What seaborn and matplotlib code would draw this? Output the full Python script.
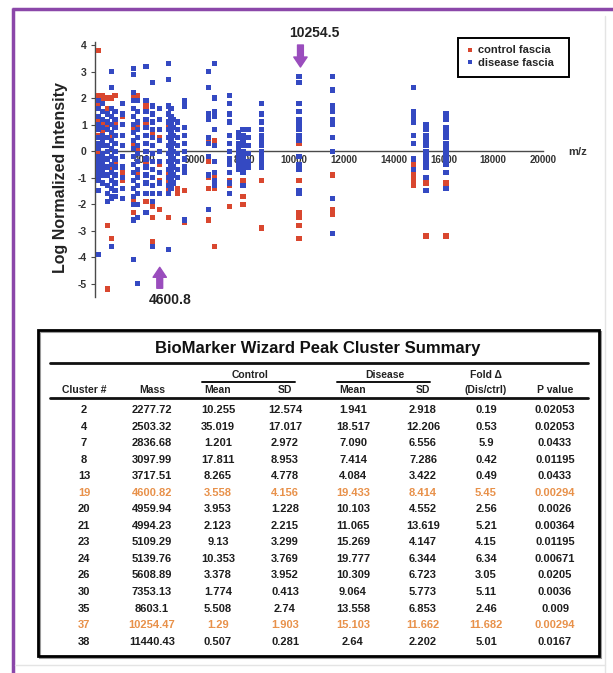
import matplotlib
matplotlib.use("Agg")
import matplotlib.pyplot as plt
from matplotlib.patches import Rectangle
import pandas as pd
import seaborn as sns

# scatter columns: m/z position of each peak column, log intensities read per column
ctrl_mz = [2150, 2300, 2500, 2650, 2800, 3100, 3550, 3700, 4050, 4300, 4600, 4950,
           5050, 5300, 5600, 6550, 6800, 7400, 7950, 8700, 10200, 11550, 14800, 15300, 16100]
ctrl_y = [
    [3.8, 2.1, 1.7, 1.2, 0.6, 0.3, -0.1],
    [2.1, 1.9, 1.1, 0.7, 0.4, -0.3],
    [2.0, 1.6, 0.9, 0.5, 0.2, -0.9, -2.8, -5.2],
    [2.0, 0.6, -0.7, -3.3],
    [2.1, 1.0, -0.5, -1.2, -1.5],
    [1.3, -0.2, -0.8, -1.1],
    [2.2, 2.0, 1.3, 0.9, 0.3, -0.5, -1.9, -2.3],
    [2.1, 1.5, 1.0, 0.1, -0.9, -2.0],
    [1.7, 1.1, 0.6, -0.4, -1.2, -1.9, -2.3],
    [1.4, 0.7, -0.7, -1.3, -2.1, -2.5, -3.4],
    [1.2, 0.5, -0.5, -1.1, -2.2],
    [1.0, 0.2, -0.8, -1.2, -1.5, -1.6, -2.5],
    [-0.4, -0.9, -1.4],
    [-1.4, -1.6],
    [-1.5, -2.7],
    [0.4, -0.4, -1.0, -1.4, -2.6],
    [0.4, -0.9, -1.4, -3.6],
    [-1.1, -1.3, -2.1],
    [-1.1, -1.7, -2.0],
    [-0.6, -1.1, -2.9],
    [0.3, -1.1, -2.3, -2.5, -2.8, -3.3],
    [-0.9, -2.2, -2.4],
    [-0.5, -0.9, -1.1, -1.3],
    [-1.2, -3.2],
    [0.9, -1.2, -3.2],
]

dis_mz = [2150, 2300, 2500, 2650, 2800, 3100, 3550, 3700, 4050, 4300, 4600, 4950, 5050,
          5150, 5300, 5600, 6550, 6800, 7400, 7750, 7950, 8150, 8700, 10200, 11550,
          14800, 15300, 16100]
dis_y = [
    [1.9, 1.6, 1.3, 1.0, 0.8, 0.5, 0.3, 0.1, -0.2, -0.4, -0.6, -0.8, -0.9, -1.1, -1.5, -3.9],
    [1.8, 1.5, 1.2, 0.9, 0.6, 0.4, 0.2, -0.1, -0.3, -0.5, -0.7, -0.9, -1.2],
    [1.4, 1.1, 0.8, 0.5, 0.2, 0.0, -0.3, -0.6, -0.9, -1.3, -1.6, -1.9],
    [3.0, 2.4, 1.6, 1.3, 1.0, 0.7, 0.4, 0.1, -0.2, -0.5, -0.8, -1.1, -1.4, -1.7, -1.8, -3.6],
    [1.5, 1.2, 0.9, 0.6, 0.3, 0.0, -0.3, -0.6, -0.9, -1.2, -1.5, -1.7],
    [1.8, 1.4, 1.0, 0.6, 0.2, -0.2, -0.6, -1.0, -1.4, -1.8],
    [3.1, 2.9, 2.2, 1.9, 1.6, 1.3, 1.0, 0.7, 0.4, 0.1, -0.2, -0.5, -0.8, -1.1, -1.4, -1.7,
     -2.0, -2.6, -4.1],
    [1.9, 1.5, 1.1, 0.8, 0.5, 0.2, -0.1, -0.4, -0.7, -1.0, -1.3, -1.6, -2.0, -2.5, -5.0],
    [3.2, 1.9, 1.5, 1.2, 0.9, 0.6, 0.3, 0.0, -0.3, -0.6, -0.9, -1.2, -1.6, -2.3],
    [2.6, 1.7, 1.4, 1.1, 0.8, 0.5, 0.2, -0.1, -0.4, -0.7, -1.0, -1.3, -1.6, -1.9, -3.6],
    [1.6, 1.2, 0.8, 0.4, 0.0, -0.4, -0.8, -1.2, -1.6],
    [3.3, 2.7, 1.7, 1.4, 1.1, 0.8, 0.5, 0.2, -0.1, -0.4, -0.7, -1.0, -1.3, -1.6, -3.7],
    [1.6, 1.3, 1.0, 0.7, 0.4, 0.1, -0.2, -0.5, -0.8, -1.1, -1.4],
    [1.2, 0.9, 0.6, 0.3, 0.0, -0.3, -0.6, -0.9, -1.2],
    [1.1, 0.8, 0.5, 0.2, -0.1, -0.4, -0.7, -1.0],
    [1.9, 1.7, 0.9, 0.6, 0.3, 0.0, -0.3, -0.6, -0.8, -2.6],
    [3.0, 2.4, 1.4, 1.2, 0.5, 0.3, -0.2, -0.9, -2.2],
    [3.3, 2.0, 1.5, 1.3, 0.8, 0.2, -0.4, -0.8, -1.1, -1.3],
    [2.1, 1.8, 1.4, 1.1, 0.6, 0.3, 0.0, -0.3, -0.5, -0.8, -1.2, -1.6],
    [0.7, 0.5, 0.3, 0.1, -0.1, -0.3, -0.5, -0.7],
    [0.8, 0.6, 0.4, 0.2, 0.0, -0.2, -0.4, -0.6, -0.8, -1.3],
    [0.8, 0.5, 0.2, -0.1, -0.4, -0.6],
    [1.8, 1.4, 1.1, 0.8, 0.6, 0.4, 0.2, 0.0, -0.2, -0.4, -0.6],
    [2.8, 2.6, 1.8, 1.5, 1.2, 1.0, 0.8, 0.6, 0.4, -0.2, -0.5, -0.7, -1.5, -1.6],
    [2.8, 2.3, 1.7, 1.5, 1.2, 1.0, 0.5, 0.0, -1.8, -3.1],
    [2.4, 1.5, 1.3, 1.1, 0.6, 0.3, -0.3, -0.7],
    [1.0, 0.8, 0.6, 0.4, 0.2, 0.0, -0.2, -0.4, -0.6, -1.0, -1.5],
    [1.4, 1.2, 0.9, 0.7, 0.5, 0.3, 0.1, -0.1, -0.3, -0.5, -0.8, -1.4],
]

# highlighted peaks
peak_labels = ["10254.5", "4600.8"]
peak_mz = [10254.5, 4600.8]

# summary table
cluster = ["2", "4", "7", "8", "13", "19", "20", "21", "23", "24", "26", "30", "35", "37", "38"]
mass = ["2277.72", "2503.32", "2836.68", "3097.99", "3717.51", "4600.82", "4959.94", "4994.23",
        "5109.29", "5139.76", "5608.89", "7353.13", "8603.1", "10254.47", "11440.43"]
ctrl_mean = ["10.255", "35.019", "1.201", "17.811", "8.265", "3.558", "3.953", "2.123",
             "9.13", "10.353", "3.378", "1.774", "5.508", "1.29", "0.507"]
ctrl_sd = ["12.574", "17.017", "2.972", "8.953", "4.778", "4.156", "1.228", "2.215",
           "3.299", "3.769", "3.952", "0.413", "2.74", "1.903", "0.281"]
dis_mean = ["1.941", "18.517", "7.090", "7.414", "4.084", "19.433", "10.103", "11.065",
            "15.269", "19.777", "10.309", "9.064", "13.558", "15.103", "2.64"]
dis_sd = ["2.918", "12.206", "6.556", "7.286", "3.422", "8.414", "4.552", "13.619",
          "4.147", "6.344", "6.723", "5.773", "6.853", "11.662", "2.202"]
fold = ["0.19", "0.53", "5.9", "0.42", "0.49", "5.45", "2.56", "5.21",
        "4.15", "6.34", "3.05", "5.11", "2.46", "11.682", "5.01"]
pvalue = ["0.02053", "0.02053", "0.0433", "0.01195", "0.0433", "0.00294", "0.0026", "0.00364",
          "0.01195", "0.00671", "0.0205", "0.0036", "0.009", "0.00294", "0.0167"]
highlight = ["19", "37"]

RED = "#d9472f"
BLUE = "#3449c2"
PURPLE = "#9a4dbd"
FRAME = "#8b47a9"
ORANGE = "#e8914a"

sns.set_style("white")
plt.rcParams["font.family"] = ["Liberation Sans", "DejaVu Sans"]
plt.rcParams["axes.unicode_minus"] = False

rows = []
for mz, ys in zip(ctrl_mz, ctrl_y):
    rows += [(mz, y, "control fascia") for y in ys]
for mz, ys in zip(dis_mz, dis_y):
    rows += [(mz, y, "disease fascia") for y in ys]
df = pd.DataFrame(rows, columns=["mz", "intensity", "group"])

W, H = 613, 673
fig = plt.figure(figsize=(W / 100, H / 100), dpi=100)

# background layer in pixel units: frame + table
bg = fig.add_axes([0, 0, 1, 1])
bg.set_xlim(0, W)
bg.set_ylim(H, 0)
bg.axis("off")
bg.plot([12, W], [9, 9], color=FRAME, lw=2.5, solid_capstyle="butt")
bg.plot([13.3, 13.3], [8, H], color=FRAME, lw=2.5, solid_capstyle="butt")
bg.plot([605, 605], [16, H], color="#e4e4e4", lw=1)
bg.plot([15, 605], [665, 665], color="#e4e4e4", lw=1)

# legend frame
bg.add_patch(Rectangle((458, 38), 111, 39, fill=False, ec="black", lw=1.4))

# table
bg.add_patch(Rectangle((40, 332), 561, 326, fill=False, ec="#9a9a9a", lw=1.5))
bg.add_patch(Rectangle((38, 330), 561, 326, fill=False, ec="black", lw=2))
bg.text(318, 348, "BioMarker Wizard Peak Cluster Summary", ha="center", va="center",
        fontsize=12, fontweight="bold", color="#111")
bg.plot([50, 588], [363, 363], color="#111", lw=2)
bg.plot([50, 588], [398, 398], color="#111", lw=2)
bg.plot([202, 295], [382, 382], color="#111", lw=1.4)
bg.plot([337, 430], [382, 382], color="#111", lw=1.4)

col_x = [84, 152, 218, 285, 353, 423, 486, 555]
hdr_kw = dict(ha="center", va="center", fontsize=7.5, fontweight="bold", color="#222")
bg.text(250, 375, "Control", **hdr_kw)
bg.text(385, 375, "Disease", **hdr_kw)
bg.text(486, 375, "Fold Δ", **hdr_kw)
for x, h in zip(col_x, ["Cluster #", "Mass", "Mean", "SD", "Mean", "SD", "(Dis/ctrl)", "P value"]):
    bg.text(x, 390, h, **hdr_kw)

columns = [cluster, mass, ctrl_mean, ctrl_sd, dis_mean, dis_sd, fold, pvalue]
for i, c in enumerate(cluster):
    color = ORANGE if c in highlight else "#1e1e1e"
    y = 410 + 16.55 * i
    for x, col in zip(col_x, columns):
        bg.text(x, y, col[i], ha="center", va="center", fontsize=8,
                fontweight="bold", color=color)

# scatter plot
ax = fig.add_axes([95 / W, 1 - 297 / H, 448 / W, (297 - 42.35) / H])
ax.patch.set_alpha(0)
sns.scatterplot(data=df, x="mz", y="intensity", hue="group",
                palette={"control fascia": RED, "disease fascia": BLUE},
                marker="s", s=14, linewidth=0, ax=ax, zorder=3)
ax.set_xlim(2000, 20000)
ax.set_ylim(-5.5, 4.1)
ax.spines[["top", "right"]].set_visible(False)
ax.spines["bottom"].set_position(("data", 0))
for s in ["left", "bottom"]:
    ax.spines[s].set_color("#4a4a4a")
    ax.spines[s].set_linewidth(1)
ax.set_xticks(range(4000, 20001, 2000))
ax.set_yticks(range(-5, 5))
ax.tick_params(axis="x", length=0, pad=3, labelsize=7, labelcolor="#333")
ax.tick_params(axis="y", length=3, width=0.8, color="#4a4a4a", pad=3,
               labelsize=7.5, labelcolor="#333", left=True)
for lab in ax.get_xticklabels() + ax.get_yticklabels():
    lab.set_fontweight("bold")
ax.set_xlabel("")
ax.set_ylabel("")

fig.text(60 / W, 1 - 178 / H, "Log Normalized Intensity", rotation=90,
         ha="center", va="center", fontsize=11.5, fontweight="bold", color="#222")
fig.text(578 / W, 1 - 152 / H, "m/z", ha="center", va="center",
         fontsize=8, fontweight="bold", color="#333")

handles, labels = ax.get_legend_handles_labels()
ax.legend(handles, labels, loc="center left", bbox_to_anchor=(465.5 / W, 1 - 56.5 / H),
          bbox_transform=fig.transFigure, frameon=False, borderpad=0, borderaxespad=0,
          handlelength=0.8, handletextpad=0.3, labelspacing=0.2, markerscale=0.8,
          prop={"size": 8, "weight": "bold"})

arrow = dict(arrowstyle="simple,head_length=1.2,head_width=1.6,tail_width=0.7",
             color=PURPLE, mutation_scale=6, shrinkA=0, shrinkB=0)
# 10254.5 arrow points down, 4600.8 arrow points up
ax.annotate("", xy=(peak_mz[0], 3.17), xytext=(peak_mz[0], 4.0),
            arrowprops=arrow, annotation_clip=False)
ax.annotate(peak_labels[0], xy=(peak_mz[0], 4.0), xytext=(10, 9), textcoords="offset points",
            ha="center", va="center", fontsize=10, fontweight="bold", color="#222",
            annotation_clip=False)
ax.annotate("", xy=(peak_mz[1], -4.38), xytext=(peak_mz[1], -5.17),
            arrowprops=arrow, annotation_clip=False)
ax.annotate(peak_labels[1], xy=(peak_mz[1], -5.17), xytext=(7.5, -8.6), textcoords="offset points",
            ha="center", va="center", fontsize=10, fontweight="bold", color="#222",
            annotation_clip=False)

fig.savefig("out.png", dpi=100)
